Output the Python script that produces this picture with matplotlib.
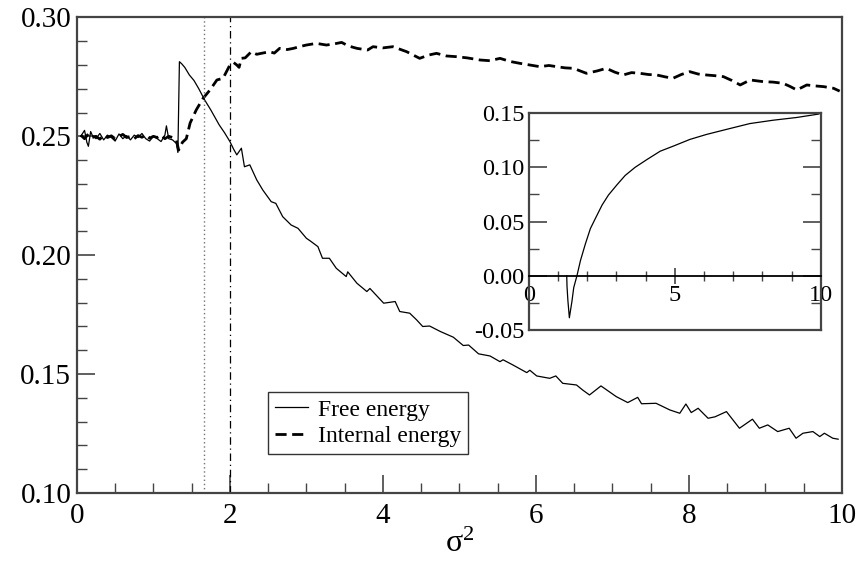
import numpy as np
import matplotlib.pyplot as plt
from matplotlib.ticker import MultipleLocator

plt.rcParams['font.family'] = ['Liberation Serif', 'DejaVu Serif']
plt.rcParams['mathtext.fontset'] = 'custom'
plt.rcParams['mathtext.rm'] = 'Liberation Serif'
plt.rcParams['mathtext.it'] = 'Liberation Serif'

# free energy (solid line)
free_x = [0.05, 0.10, 0.13, 0.15, 0.18, 0.20, 0.25, 0.30, 0.35, 0.40, 0.45, 0.50,
          0.55, 0.60, 0.65, 0.70, 0.75, 0.80, 0.85, 0.90, 0.95, 1.00, 1.05, 1.10,
          1.15, 1.17, 1.20, 1.25, 1.30, 1.32, 1.34, 1.37, 1.41, 1.47, 1.53, 1.59,
          1.67, 1.75, 1.86, 1.93, 2.00, 2.05, 2.09, 2.15, 2.19, 2.26, 2.35, 2.43,
          2.54, 2.60, 2.69, 2.80, 2.89, 3.00, 3.05, 3.15, 3.21, 3.30, 3.39, 3.52,
          3.54, 3.66, 3.79, 3.83, 4.01, 4.16, 4.22, 4.35, 4.44, 4.52, 4.61, 4.75,
          4.92, 5.05, 5.12, 5.25, 5.40, 5.53, 5.57, 5.70, 5.88, 5.92, 6.01, 6.18,
          6.26, 6.35, 6.53, 6.61, 6.70, 6.85, 7.05, 7.20, 7.33, 7.38, 7.57, 7.75,
          7.88, 7.96, 8.03, 8.12, 8.25, 8.34, 8.49, 8.66, 8.83, 8.92, 9.03, 9.16,
          9.31, 9.40, 9.49, 9.62, 9.71, 9.77, 9.88, 9.95]
free_y = [0.2500, 0.2525, 0.2475, 0.2458, 0.2520, 0.2505, 0.2490, 0.2512, 0.2485, 0.2505, 0.2495, 0.2480,
          0.2510, 0.2490, 0.2503, 0.2485, 0.2505, 0.2495, 0.2512, 0.2490, 0.2480, 0.2500, 0.2490, 0.2478,
          0.2505, 0.2544, 0.2490, 0.2485, 0.2470, 0.2432, 0.2814, 0.2805, 0.2790, 0.2758, 0.2735, 0.2702,
          0.2653, 0.2611, 0.2548, 0.2515, 0.2478, 0.2445, 0.2422, 0.2450, 0.2372, 0.2380, 0.2317, 0.2274,
          0.2225, 0.2218, 0.2162, 0.2127, 0.2113, 0.2071, 0.2060, 0.2036, 0.1987, 0.1987, 0.1945, 0.1910,
          0.1930, 0.1882, 0.1847, 0.1860, 0.1798, 0.1805, 0.1763, 0.1756, 0.1728, 0.1700, 0.1702, 0.1679,
          0.1655, 0.1620, 0.1622, 0.1585, 0.1576, 0.1552, 0.1560, 0.1538, 0.1506, 0.1516, 0.1492, 0.1482,
          0.1492, 0.1461, 0.1454, 0.1433, 0.1412, 0.1450, 0.1405, 0.1380, 0.1402, 0.1375, 0.1377, 0.1349,
          0.1335, 0.1374, 0.1338, 0.1356, 0.1314, 0.1320, 0.1342, 0.1272, 0.1310, 0.1272, 0.1286, 0.1258,
          0.1272, 0.1230, 0.1251, 0.1258, 0.1237, 0.1251, 0.1230, 0.1226]

# internal energy (dashed line)
int_x = [0.05, 0.10, 0.15, 0.20, 0.25, 0.30, 0.35, 0.40, 0.45, 0.50, 0.55, 0.60,
         0.65, 0.70, 0.75, 0.80, 0.85, 0.90, 0.95, 1.00, 1.05, 1.10, 1.15, 1.20,
         1.25, 1.30, 1.33, 1.38, 1.43, 1.48, 1.56, 1.65, 1.74, 1.83, 1.91, 2.00,
         2.05, 2.09, 2.12, 2.15, 2.20, 2.28, 2.35, 2.41, 2.52, 2.58, 2.65, 2.75,
         2.83, 2.92, 3.00, 3.13, 3.26, 3.35, 3.46, 3.55, 3.66, 3.80, 3.87, 4.00,
         4.13, 4.31, 4.48, 4.60, 4.70, 4.83, 4.96, 5.10, 5.27, 5.40, 5.53, 5.66,
         5.79, 5.92, 6.05, 6.17, 6.27, 6.38, 6.49, 6.66, 6.80, 6.92, 7.03, 7.14,
         7.25, 7.36, 7.47, 7.58, 7.69, 7.79, 7.90, 8.01, 8.12, 8.23, 8.34, 8.45,
         8.56, 8.67, 8.80, 8.97, 9.10, 9.23, 9.32, 9.41, 9.54, 9.65, 9.76, 9.89,
         9.97]
int_y = [0.2505, 0.2490, 0.2510, 0.2495, 0.2500, 0.2488, 0.2505, 0.2495, 0.2502, 0.2490, 0.2500, 0.2508,
         0.2495, 0.2500, 0.2490, 0.2503, 0.2496, 0.2505, 0.2492, 0.2500, 0.2495, 0.2505, 0.2490, 0.2500,
         0.2495, 0.2485, 0.2442, 0.2475, 0.2490, 0.2556, 0.2611, 0.2660, 0.2695, 0.2737, 0.2744, 0.2800,
         0.2810, 0.2800, 0.2790, 0.2828, 0.2830, 0.2856, 0.2845, 0.2849, 0.2856, 0.2850, 0.2870, 0.2865,
         0.2870, 0.2878, 0.2884, 0.2891, 0.2884, 0.2888, 0.2895, 0.2880, 0.2870, 0.2863, 0.2877, 0.2872,
         0.2877, 0.2856, 0.2828, 0.2842, 0.2849, 0.2838, 0.2835, 0.2830, 0.2821, 0.2818, 0.2828, 0.2815,
         0.2807, 0.2800, 0.2793, 0.2798, 0.2793, 0.2788, 0.2786, 0.2765, 0.2775, 0.2786, 0.2770, 0.2758,
         0.2768, 0.2765, 0.2760, 0.2758, 0.2750, 0.2744, 0.2760, 0.2772, 0.2762, 0.2758, 0.2755, 0.2751,
         0.2735, 0.2716, 0.2737, 0.2730, 0.2728, 0.2723, 0.2710, 0.2695, 0.2716, 0.2712, 0.2709, 0.2702,
         0.2690]

# inset: difference curve
diff_x = [1.30, 1.31, 1.34, 1.39, 1.48, 1.54, 1.65, 1.77, 1.94, 2.11, 2.28, 2.51,
          2.73, 3.02, 3.30, 3.64, 4.04, 4.50, 4.95, 5.52, 6.09, 6.78, 7.57, 8.37,
          9.17, 9.91, 9.97]
diff_y = [0.0000, -0.0100, -0.0230, -0.0388, -0.0233, -0.0109, 0.0000, 0.0140, 0.0295, 0.0435, 0.0528, 0.0652,
          0.0745, 0.0839, 0.0925, 0.1000, 0.1071, 0.1149, 0.1196, 0.1258, 0.1304, 0.1351, 0.1404, 0.1435,
          0.1460, 0.1491, 0.1497]

sigma_c1 = 1.66
sigma_c2 = 2.0

spine_col = '#444444'

fig = plt.figure(figsize=(8.64, 5.63), dpi=100)
ax = fig.add_axes([0.089, 0.1245, 0.8855, 0.8445])

ax.plot(free_x, free_y, color='k', linewidth=0.9, label='Free energy')
ax.plot(int_x, int_y, color='k', linewidth=2.0, linestyle=(0, (4, 2)), label='Internal energy')
ax.axvline(sigma_c1, color='0.45', linewidth=1.0, linestyle=(0, (1, 2)))
ax.axvline(sigma_c2, color='k', linewidth=0.9, linestyle=(0, (6, 3, 1, 3)))

ax.set_xlim(0, 10)
ax.set_ylim(0.10, 0.30)
ax.xaxis.set_major_locator(MultipleLocator(2))
ax.xaxis.set_minor_locator(MultipleLocator(0.5))
ax.yaxis.set_major_locator(MultipleLocator(0.05))
ax.yaxis.set_minor_locator(MultipleLocator(0.01))
ax.yaxis.set_major_formatter(plt.FormatStrFormatter('%.2f'))
ax.xaxis.set_major_formatter(plt.FormatStrFormatter('%d'))
ax.tick_params(which='both', direction='in', labelsize=21, color=spine_col)
ax.tick_params(which='major', length=13, width=1.2)
ax.tick_params(which='minor', length=7, width=1.0)
ax.tick_params(axis='x', pad=7)
ax.tick_params(axis='y', pad=4)
for s in ax.spines.values():
    s.set_color(spine_col)
    s.set_linewidth(1.6)
ax.set_xlabel('σ$^{2}$', fontsize=23, labelpad=1)

leg = ax.legend(loc='lower left', bbox_to_anchor=(0.25, 0.082), borderaxespad=0,
                fontsize=17, frameon=True, fancybox=False, handlelength=1.4,
                handletextpad=0.4, borderpad=0.3, labelspacing=0.2)
leg.get_frame().set_edgecolor('k')
leg.get_frame().set_linewidth(1.0)

# inset
ins = fig.add_axes([0.612, 0.414, 0.338, 0.385])
ins.plot(diff_x, diff_y, color='k', linewidth=0.9)
ins.set_xlim(0, 10)
ins.set_ylim(-0.05, 0.15)
ins.spines['bottom'].set_position(('data', 0))
ins.plot([0, 1], [0, 0], transform=ins.transAxes, color=spine_col, linewidth=1.6, clip_on=False)
for s in ins.spines.values():
    s.set_color(spine_col)
    s.set_linewidth(1.6)
ins.spines['bottom'].set_color('k')
ins.spines['bottom'].set_linewidth(1.3)
ins.xaxis.set_major_locator(MultipleLocator(5))
ins.xaxis.set_minor_locator(MultipleLocator(1))
ins.yaxis.set_major_locator(MultipleLocator(0.05))
ins.yaxis.set_minor_locator(MultipleLocator(0.025))
ins.yaxis.set_major_formatter(plt.FormatStrFormatter('%.2f'))
ins.xaxis.set_major_formatter(plt.FormatStrFormatter('%d'))
ins.tick_params(which='both', labelsize=17.5, color=spine_col)
ins.tick_params(axis='y', which='both', direction='in', right=True, pad=3)
ins.tick_params(axis='y', which='major', length=13, width=1.2)
ins.tick_params(axis='y', which='minor', length=7, width=1.0)
ins.tick_params(axis='x', which='both', direction='inout', pad=1)
ins.tick_params(axis='x', which='major', length=12, width=1.2)
ins.tick_params(axis='x', which='minor', length=7, width=1.0)

fig.savefig('out.png', dpi=100)
